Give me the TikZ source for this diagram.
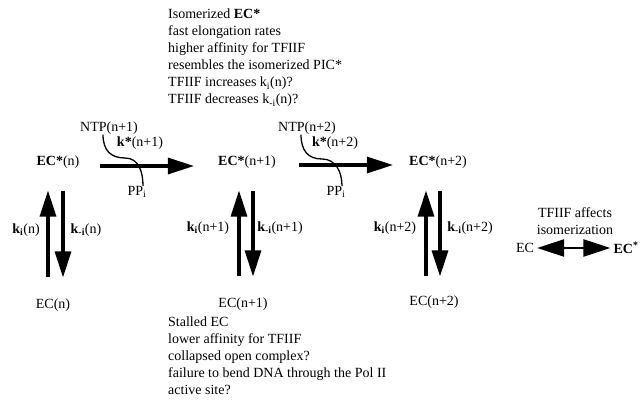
\documentclass[tikz,border=0pt]{standalone}
\usepackage{fontspec}
\setmainfont{Liberation Serif}
\usetikzlibrary{arrows.meta}
\begin{document}
\begin{tikzpicture}[x=1pt,y=-1pt,
  lbl/.style={inner sep=0pt, font=\fontsize{14}{17}\selectfont},
  blk/.style={inner sep=0pt, align=left, anchor=north west, font=\fontsize{14}{17}\selectfont},
  bigarrow/.style={line width=3.2pt, -{Triangle[length=26pt,width=16pt]}},
  hookline/.style={line width=1.3pt}
]
\useasboundingbox (0,0) rectangle (642,404);
% top text
\node[blk] (top) at (168,9) {Isomerized \textbf{EC*}\\fast elongation rates\\higher affinity for TFIIF\\resembles the isomerized PIC*\\TFIIF increases k\textsubscript{i}(n)?\\TFIIF decreases k\textsubscript{-i}(n)?};
% bottom text
\node[blk] (bot) at (168,317) {Stalled EC\\lower affinity for TFIIF\\collapsed open complex?\\failure to bend DNA through the Pol II\\active site?};
% states
\node[lbl] (s1) at (58,162) {\textbf{EC*}(n)};
\node[lbl] (s2) at (247,162) {\textbf{EC*}(n+1)};
\node[lbl] (s3) at (438,162) {\textbf{EC*}(n+2)};
\node[lbl] (e1) at (53,305) {EC(n)};
\node[lbl] (e2) at (243,304) {EC(n+1)};
\node[lbl] (e3) at (434,302) {EC(n+2)};
% NTP / PPi
\node[lbl] (ntp1) at (109,128) {NTP(n+1)};
\node[lbl] (ntp2) at (307,128) {NTP(n+2)};
\node[lbl] (pp1) at (137,192) {PP\textsubscript{i}};
\node[lbl] (pp2) at (336,192) {PP\textsubscript{i}};
\node[lbl] (k1) at (140,143) {\textbf{k*}(n+1)};
\node[lbl] (k2) at (335,143) {\textbf{k*}(n+2)};
% horizontal arrows
\draw[bigarrow, shorten <=20pt, shorten >=24pt] ([yshift=-4pt]s1.east) -- ([yshift=-4pt]s2.west);
\draw[bigarrow, shorten <=23pt, shorten >=16pt] ([yshift=-3pt]s2.east) -- ([yshift=-3pt]s3.west);
% hook curves
\draw[hookline] ([xshift=-6pt]ntp1.south) .. controls +(0,16) and +(-14,0) .. (125,158) .. controls +(14,0) and +(0,-14) .. ([xshift=6pt]pp1.north);
\draw[hookline] ([xshift=-6pt]ntp2.south) .. controls +(0,16) and +(-14,0) .. (322,159) .. controls +(14,0) and +(0,-14) .. ([xshift=6pt]pp2.north);
% vertical arrows
\draw[bigarrow, shorten <=21pt, shorten >=22pt] ([xshift=-5pt]e1.north) -- ([xshift=-10pt]s1.south);
\draw[bigarrow, shorten <=22pt, shorten >=21pt] ([xshift=5pt]s1.south) -- ([xshift=10pt]e1.north);
\draw[bigarrow, shorten <=21pt, shorten >=22pt] ([xshift=-4pt]e2.north) -- ([xshift=-8pt]s2.south);
\draw[bigarrow, shorten <=22pt, shorten >=21pt] ([xshift=6pt]s2.south) -- ([xshift=10pt]e2.north);
\draw[bigarrow, shorten <=19pt, shorten >=22pt] ([xshift=-8pt]e3.north) -- ([xshift=-12pt]s3.south);
\draw[bigarrow, shorten <=22pt, shorten >=19pt] ([xshift=2pt]s3.south) -- ([xshift=6pt]e3.north);
% rate labels
\node[lbl] (ki1) at (26,230) {\textbf{k\textsubscript{i}}(n)};
\node[lbl] (kmi1) at (86,230) {\textbf{k\textsubscript{-i}}(n)};
\node[lbl] (ki2) at (208,228) {\textbf{k\textsubscript{i}}(n+1)};
\node[lbl] (kmi2) at (280,228) {\textbf{k\textsubscript{-i}}(n+1)};
\node[lbl] (ki3) at (395,228) {\textbf{k\textsubscript{i}}(n+2)};
\node[lbl] (kmi3) at (470,228) {\textbf{k\textsubscript{-i}}(n+2)};
% right side
\node[lbl, align=center] (aff) at (575,221) {TFIIF affects\\isomerization};
\node[lbl] (ec) at (525,248) {EC};
\node[lbl] (ecs) at (626,248) {\textbf{EC\textsuperscript{*}}};
\draw[line width=2.5pt, {Triangle[length=27pt,width=17pt]}-{Triangle[length=27pt,width=17pt]}, shorten <=3pt, shorten >=3pt] (ec.east) -- (ecs.west);
\end{tikzpicture}
\end{document}
